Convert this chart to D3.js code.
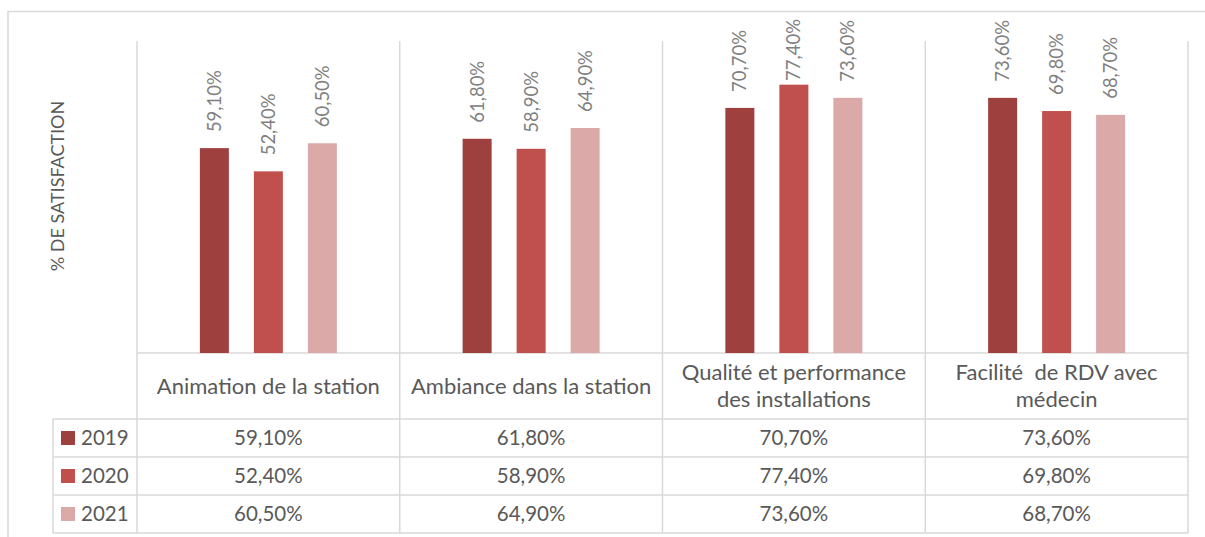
<!DOCTYPE html>
<html>
<head>
<meta charset="utf-8">
<script src="https://cdn.jsdelivr.net/npm/d3@7"></script>
<style>
  body { margin: 0; background: #fff; }
  svg { display: block; font-family: Lato, "Open Sans", sans-serif; }
</style>
</head>
<body>
<svg width="1205" height="537"></svg>
<script>
// data
var categories = ["Animation de la station", "Ambiance dans la station", "Qualité et performance\ndes installations", "Facilité  de RDV avec\nmédecin"];
var years = ["2019", "2020", "2021"];
var values2019 = [0.591, 0.618, 0.707, 0.736];
var values2020 = [0.524, 0.589, 0.774, 0.698];
var values2021 = [0.605, 0.649, 0.736, 0.687];
var colors = ["#9e403e", "#c0504d", "#daa9a8"];

var series = [values2019, values2020, values2021];
var fmt = function(v) { return (v * 100).toFixed(2).replace(".", ",") + "%"; };

var svg = d3.select("svg");
var gridColor = "#d9d9d9";

var plotLeft = 137, plotRight = 1188, plotTop = 41, base = 353;
var rowTop = [419, 457, 495], rowBottom = 533, legendLeft = 53;

var x0 = d3.scaleBand().domain(d3.range(categories.length)).range([plotLeft, plotRight]);
var x1 = d3.scaleBand().domain(years).range([-81, 81]).paddingInner(0.463).paddingOuter(0.2315);
var y = d3.scaleLinear().domain([0, 0.9]).range([base, plotTop]);

// outer frame
svg.append("line").attr("x1", 7.5).attr("x2", 1205).attr("y1", 11.5).attr("y2", 11.5)
    .attr("stroke", gridColor).attr("stroke-width", 1.5);
svg.append("line").attr("x1", 8).attr("x2", 8).attr("y1", 11).attr("y2", 537)
    .attr("stroke", gridColor).attr("stroke-width", 1.5);

// vertical separators (plot + table)
var seps = d3.range(categories.length + 1).map(function(i) { return i < categories.length ? x0(i) : plotRight; });
svg.append("g").selectAll("line").data(seps).enter().append("line")
    .attr("x1", function(d) { return d; }).attr("x2", function(d) { return d; })
    .attr("y1", plotTop).attr("y2", rowBottom)
    .attr("stroke", gridColor).attr("stroke-width", 1.5);

// horizontal lines of table
svg.append("line").attr("x1", plotLeft).attr("x2", plotRight).attr("y1", base).attr("y2", base)
    .attr("stroke", gridColor).attr("stroke-width", 1.5);
svg.append("g").selectAll("line").data(rowTop.concat([rowBottom])).enter().append("line")
    .attr("x1", legendLeft).attr("x2", plotRight)
    .attr("y1", function(d) { return d; }).attr("y2", function(d) { return d; })
    .attr("stroke", gridColor).attr("stroke-width", 1.5);
svg.append("line").attr("x1", legendLeft).attr("x2", legendLeft).attr("y1", rowTop[0]).attr("y2", rowBottom)
    .attr("stroke", gridColor).attr("stroke-width", 1.5);

// bars
var groups = svg.append("g").selectAll("g").data(categories).enter().append("g")
    .attr("transform", function(d, i) { return "translate(" + (x0(i) + x0.bandwidth() / 2) + ",0)"; });

groups.selectAll("rect").data(function(d, i) {
        return years.map(function(yr, s) { return { year: yr, s: s, v: series[s][i] }; });
    }).enter().append("rect")
    .attr("x", function(d) { return x1(d.year); })
    .attr("width", x1.bandwidth())
    .attr("y", function(d) { return y(d.v); })
    .attr("height", function(d) { return base - y(d.v); })
    .attr("fill", function(d) { return colors[d.s]; });

// rotated value labels
groups.selectAll("text.lbl").data(function(d, i) {
        return years.map(function(yr, s) { return { year: yr, s: s, v: series[s][i] }; });
    }).enter().append("text")
    .attr("class", "lbl")
    .attr("font-size", 18.5)
    .attr("fill", "#808080")
    .attr("dy", "0.35em")
    .text(function(d) { return fmt(d.v); })
    .each(function(d) {
        var len = this.getComputedTextLength();
        var start = y(d.v) - 16;
        if (start - len < 19) start = 19 + len;
        var cx = x1(d.year) + x1.bandwidth() / 2;
        d3.select(this).attr("transform", "translate(" + cx + "," + start + ") rotate(-90)");
    });

// category header
svg.append("g").selectAll("text").data(categories).enter().append("text")
    .attr("x", function(d, i) { return x0(i) + x0.bandwidth() / 2; })
    .attr("text-anchor", "middle")
    .attr("font-size", 22)
    .attr("fill", "#595959")
    .style("white-space", "pre")
    .each(function(d) {
        var lines = d.split("\n");
        var cy = lines.length === 1 ? [386] : [372, 399];
        var t = d3.select(this);
        lines.forEach(function(l, k) {
            t.append("tspan").attr("x", t.attr("x")).attr("y", cy[k]).attr("dy", "0.35em").text(l);
        });
    });

// table rows
var rowMid = rowTop.map(function(t, k) { return (t + (k < 2 ? rowTop[k + 1] : rowBottom)) / 2; });
years.forEach(function(yr, s) {
    svg.append("rect").attr("x", 61).attr("y", rowMid[s] - 7).attr("width", 14).attr("height", 14)
        .attr("fill", colors[s]);
    svg.append("text").attr("x", 81).attr("y", rowMid[s]).attr("dy", "0.35em")
        .attr("font-size", 20.5).attr("fill", "#595959").text(yr);
    svg.append("g").selectAll("text").data(series[s]).enter().append("text")
        .attr("x", function(d, i) { return x0(i) + x0.bandwidth() / 2; })
        .attr("y", rowMid[s]).attr("dy", "0.35em")
        .attr("text-anchor", "middle")
        .attr("font-size", 20.5).attr("fill", "#595959")
        .text(fmt);
});

// y axis title
svg.append("text")
    .attr("transform", "translate(58,186) rotate(-90)")
    .attr("text-anchor", "middle")
    .attr("dy", "0.35em")
    .attr("font-size", 18)
    .attr("fill", "#595959")
    .text("% DE SATISFACTION");
</script>
</body>
</html>
